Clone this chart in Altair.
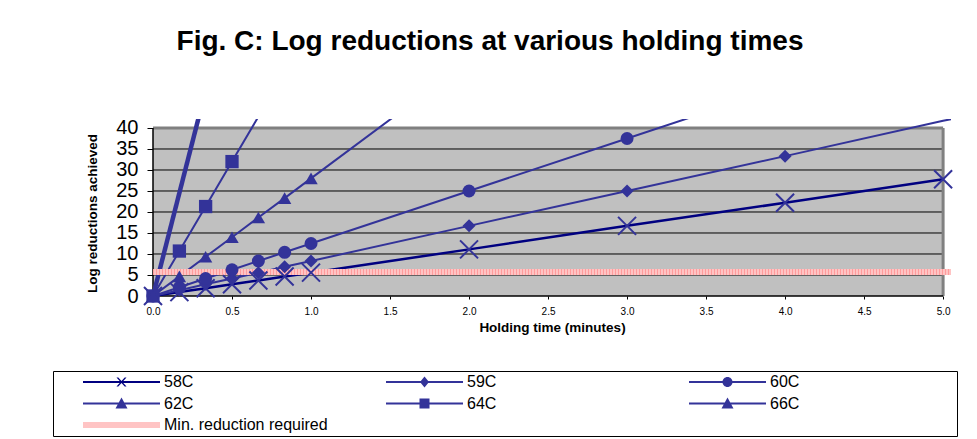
import altair as alt
import pandas as pd

# ---------------- data ----------------
TITLE = "Fig. C: Log reductions at various holding times"
X_TITLE = "Holding time (minutes)"
Y_TITLE = "Log reductions achieved"

SERIES = ["58C", "59C", "60C", "62C", "64C", "66C"]
MIN_LABEL = "Min. reduction required"

T_58C = [0.0, 0.167, 0.333, 0.5, 0.667, 0.833, 1.0, 2.0, 3.0, 4.0, 5.0]
LR_58C = [0.0, 0.93, 1.85, 2.78, 3.70, 4.63, 5.56, 11.1, 16.7, 22.2, 27.8]

T_59C = [0.0, 0.167, 0.333, 0.5, 0.667, 0.833, 1.0, 2.0, 3.0, 4.0, 5.0, 6.0]
LR_59C = [0.0, 1.39, 2.78, 4.17, 5.56, 6.94, 8.33, 16.7, 25.0, 33.3, 41.7, 50.0]

T_60C = [0.0, 0.167, 0.333, 0.5, 0.667, 0.833, 1.0, 2.0, 3.0, 4.0, 5.0]
LR_60C = [0.0, 2.08, 4.17, 6.25, 8.33, 10.4, 12.5, 25.0, 37.5, 50.0, 62.5]

T_62C = [0.0, 0.167, 0.333, 0.5, 0.667, 0.833, 1.0, 2.0]
LR_62C = [0.0, 4.67, 9.33, 14.0, 18.7, 23.3, 28.0, 56.0]

T_64C = [0.0, 0.167, 0.333, 0.5, 0.667]
LR_64C = [0.0, 10.7, 21.3, 32.0, 42.7]

T_66C = [0.0, 1.0]
LR_66C = [0.0, 147.0]

T_MIN = [0.0, 6.0]
LR_MIN = [5.7, 5.7]

X_TICKS = [0.0, 0.5, 1.0, 1.5, 2.0, 2.5, 3.0, 3.5, 4.0, 4.5, 5.0]
Y_TICKS = [0, 5, 10, 15, 20, 25, 30, 35, 40]
Y_GRID = [5, 10, 15, 20, 25, 30, 35]
X_AXIS_MAX = 5.0
Y_AXIS_MAX = 40
X_VIEW_MAX = 5.05
Y_VIEW_MAX = 42.14

SERIES_T = {"58C": T_58C, "59C": T_59C, "60C": T_60C, "62C": T_62C, "64C": T_64C, "66C": T_66C}
SERIES_V = {"58C": LR_58C, "59C": LR_59C, "60C": LR_60C, "62C": LR_62C, "64C": LR_64C, "66C": LR_66C}

# ---------------- styles ----------------
FONT = "Liberation Sans, Arial, sans-serif"
NAVY = "#333399"
DARK_NAVY = "#000080"
PINK = "#FFC4C4"
PINK_DARK = "#FF9C9C"
PLOT_BG = "#C0C0C0"
BORDER_GRAY = "#808080"

LINE_COLOR = {"58C": DARK_NAVY, "59C": NAVY, "60C": NAVY, "62C": NAVY, "64C": NAVY, "66C": NAVY}
LINE_WIDTH = {"58C": 2.5, "59C": 2, "60C": 2, "62C": 2, "64C": 2, "66C": 4.5}
X_PATH = "M-1,-1L1,1M-1,1L1,-1"
MARKER = {"58C": X_PATH, "59C": "diamond", "60C": "circle", "62C": "triangle-up",
          "64C": "square", "66C": "triangle-up"}
MARKER_SIZE = {"58C": 324, "59C": 169, "60C": 169, "62C": 180, "64C": 177, "66C": 180}

# legend symbols: line sample + marker (pixel units with symbol size 4)
L_PAD = "M-8,0 "
R_PAD = " M284,0"


def seg(h):
    return f"M19,{-h} L96,{-h} L96,{h} L19,{h} Z "


LEG_MARK = {
    "58C": "M52.5,-4.5 L54.3,-4.5 L62.5,4.5 L60.7,4.5 Z M60.7,-4.5 L62.5,-4.5 L54.3,4.5 L52.5,4.5 Z",
    "59C": "M57.5,-5.5 L62,0 L57.5,5.5 L53,0 Z",
    "60C": "M52.5,0 A5,5 0 1,1 62.5,0 A5,5 0 1,1 52.5,0 Z",
    "62C": "M57.5,-6 L63.5,5 L51.5,5 Z",
    "64C": "M52.5,-5 L62.5,-5 L62.5,5 L52.5,5 Z",
    "66C": "M57.5,-6 L63.5,5 L51.5,5 Z",
}
LEG_DOMAIN = SERIES + [MIN_LABEL]
LEG_SHAPES = [L_PAD + seg(1) + LEG_MARK[s] + R_PAD for s in SERIES] + [L_PAD + seg(3) + R_PAD]
LEG_COLORS = [LINE_COLOR[s] for s in SERIES] + [PINK]

# ---------------- encodings ----------------
x_axis = alt.Axis(values=X_TICKS, format=".1f", title=X_TITLE, domain=False, grid=False,
                  tickSize=3, tickColor="black", tickWidth=1, labelFontSize=10, labelColor="black",
                  labelFont=FONT, labelPadding=7, labelFlush=False, labelOverlap=False,
                  titleFont=FONT, titleFontSize=13.5, titleFontWeight="bold", titleColor="black",
                  titlePadding=4)
y_axis = alt.Axis(values=Y_TICKS, title=Y_TITLE, domain=False, grid=False,
                  tickSize=6, tickColor="black", tickWidth=1, labelFontSize=20, labelColor="black",
                  labelFont=FONT, labelPadding=9, labelFlush=False, labelOverlap=False,
                  titleFont=FONT, titleFontSize=13.5, titleFontWeight="bold", titleColor="black",
                  titlePadding=16, titleY=94)
x_scale = alt.Scale(domain=[0, X_VIEW_MAX], nice=False, zero=False)
y_scale = alt.Scale(domain=[0, Y_VIEW_MAX], nice=False, zero=False)


def X(field="t"):
    return alt.X(f"{field}:Q", scale=x_scale, axis=x_axis)


def Y(field="v"):
    return alt.Y(f"{field}:Q", scale=y_scale, axis=y_axis)


layers = []

# plot background
bg_df = pd.DataFrame({"t": [0.0], "t2": [X_AXIS_MAX], "v": [0], "v2": [Y_AXIS_MAX]})
layers.append(alt.Chart(bg_df).mark_rect(color=PLOT_BG).encode(x=X(), x2="t2:Q", y=Y(), y2="v2:Q"))

# gridlines
grid_df = pd.DataFrame({"v": Y_GRID, "t": [0.0] * len(Y_GRID), "t2": [X_AXIS_MAX] * len(Y_GRID)})
layers.append(alt.Chart(grid_df).mark_rule(color="black", strokeWidth=1)
              .encode(x=X(), x2="t2:Q", y=Y()))

# plot borders
top_df = pd.DataFrame({"t": [0.0], "t2": [X_AXIS_MAX], "v": [Y_AXIS_MAX]})
layers.append(alt.Chart(top_df).mark_rule(color=BORDER_GRAY, strokeWidth=3)
              .encode(x=X(), x2="t2:Q", y=Y()))
right_df = pd.DataFrame({"t": [X_AXIS_MAX], "v": [0], "v2": [Y_AXIS_MAX]})
layers.append(alt.Chart(right_df).mark_rule(color=BORDER_GRAY, strokeWidth=3)
              .encode(x=X(), y=Y(), y2="v2:Q"))
left_df = pd.DataFrame({"t": [0.0], "v": [0], "v2": [Y_AXIS_MAX]})
layers.append(alt.Chart(left_df).mark_rule(color="black", strokeWidth=1.5)
              .encode(x=X(), y=Y(), y2="v2:Q"))
bottom_df = pd.DataFrame({"t": [0.0], "t2": [X_AXIS_MAX], "v": [0]})
layers.append(alt.Chart(bottom_df).mark_rule(color="black", strokeWidth=1.5)
              .encode(x=X(), x2="t2:Q", y=Y()))

# series lines
for s in SERIES:
    df = pd.DataFrame({"t": SERIES_T[s], "v": SERIES_V[s]})
    layers.append(alt.Chart(df).mark_line(color=LINE_COLOR[s], strokeWidth=LINE_WIDTH[s], clip=True)
                  .encode(x=X(), y=Y()))

# minimum reduction line (hatched pink)
min_df = pd.DataFrame({"t": T_MIN, "v": LR_MIN})
layers.append(alt.Chart(min_df).mark_line(color=PINK, strokeWidth=6, clip=True)
              .encode(x=X(), y=Y()))
layers.append(alt.Chart(min_df).mark_line(color=PINK_DARK, strokeWidth=6, strokeDash=[1, 2], clip=True)
              .encode(x=X(), y=Y()))

# markers (only those inside the axis range)
for s in SERIES:
    df = pd.DataFrame({"t": SERIES_T[s], "v": SERIES_V[s]})
    df = df[(df["v"] <= Y_AXIS_MAX) & (df["t"] <= X_AXIS_MAX)]
    if s == "58C":
        mk = alt.Chart(df).mark_point(shape=MARKER[s], size=MARKER_SIZE[s], filled=False,
                                      color=NAVY, strokeWidth=2, opacity=1)
    else:
        mk = alt.Chart(df).mark_point(shape=MARKER[s], size=MARKER_SIZE[s], filled=True,
                                      color=NAVY, opacity=1, strokeWidth=0)
    layers.append(mk.encode(x=X(), y=Y()))

# legend layer (no marks, only legend)
leg = alt.Legend(title=None, orient="none", legendX=-100, legendY=252, columns=3,
                 direction="horizontal",
                 gridAlign="all", columnPadding=11, rowPadding=5.5, padding=3,
                 strokeColor="black", fillColor="white", symbolSize=4, symbolStrokeWidth=0,
                 labelFontSize=16, labelFont=FONT, labelColor="black", labelOffset=92,
                 labelLimit=0, symbolOpacity=1)
leg_df = pd.DataFrame({"series": LEG_DOMAIN})
layers.append(alt.Chart(leg_df).transform_filter("false")
              .mark_point(filled=True, size=4, opacity=1)
              .encode(color=alt.Color("series:N", scale=alt.Scale(domain=LEG_DOMAIN, range=LEG_COLORS), legend=leg),
                      shape=alt.Shape("series:N", scale=alt.Scale(domain=LEG_DOMAIN, range=LEG_SHAPES), legend=leg)))

chart = alt.layer(*layers).properties(
    width=798,
    height=177,
    title=alt.Title(TITLE, fontSize=28, font=FONT, fontWeight="bold", color="black",
                    anchor="middle", frame="group", dx=-62, offset=62),
    padding={"left": 44, "top": 19, "right": 5, "bottom": 0},
    background="white",
).configure_view(stroke=None)

chart.save("out.html", embed_options={"renderer": "svg", "actions": False})
